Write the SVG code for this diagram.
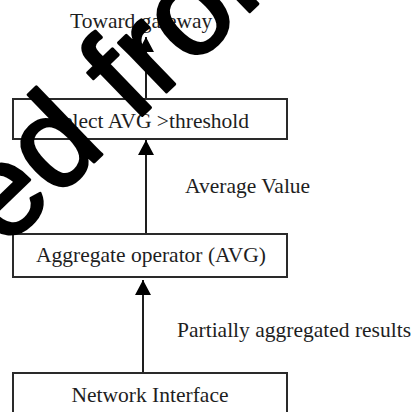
<svg xmlns="http://www.w3.org/2000/svg" width="415" height="412" viewBox="0 0 415 412">
<style>
.box{fill:#fff;stroke:#2a2a2a;stroke-width:2}
.t{font-family:"Liberation Serif","Times New Roman",serif;font-size:21.5px;fill:#1e1e1e}
.c{stroke:#1e1e1e;stroke-width:2;fill:none}
.wm{font-family:"Liberation Sans",Arial,sans-serif;font-size:130px;fill:#000;stroke:#000;stroke-width:3;stroke-linejoin:round}
</style>
<defs>
<marker id="ah" markerUnits="userSpaceOnUse" markerWidth="16" markerHeight="16" refX="15" refY="8" orient="auto">
<path d="M0,0 L15,8 L0,16 z" fill="#000"/>
</marker>
</defs>
<rect width="415" height="412" fill="#fff"/>
<g id="connectors">
<line class="c" x1="146" y1="99" x2="146" y2="37" marker-end="url(#ah)"/>
<line class="c" x1="146" y1="234" x2="146" y2="140" marker-end="url(#ah)"/>
<line class="c" x1="143" y1="373" x2="143" y2="280" marker-end="url(#ah)"/>
<text class="t" x="70" y="28">Toward gateway</text>
<text class="t" x="185" y="193">Average Value</text>
<text class="t" x="177" y="337">Partially aggregated results</text>
</g>
<g id="select">
<rect class="box" x="13" y="99" width="274" height="40"/>
<text class="t" x="150" y="128" text-anchor="middle">Select AVG &gt;threshold</text>
</g>
<g id="aggregate">
<rect class="box" x="13" y="234" width="274" height="43"/>
<text class="t" x="151" y="262" text-anchor="middle">Aggregate operator (AVG)</text>
</g>
<g id="network">
<rect class="box" x="13" y="373" width="274" height="50"/>
<text class="t" x="150" y="402" text-anchor="middle">Network Interface</text>
</g>
<g id="watermark">
<text class="wm" transform="translate(4,249) rotate(-44)">ed from</text>
</g>
</svg>
